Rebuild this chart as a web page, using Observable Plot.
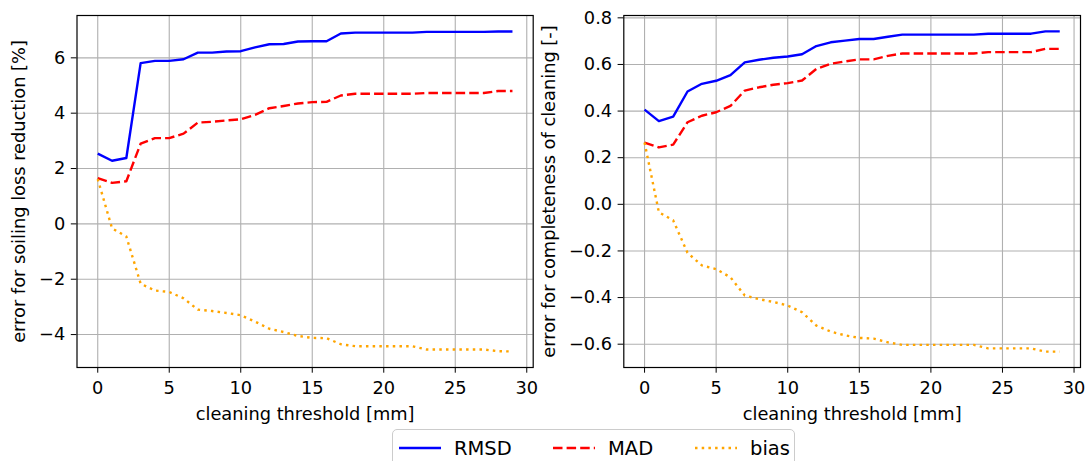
<!DOCTYPE html>
<html>
<head>
<meta charset="utf-8">
<script src="https://cdn.jsdelivr.net/npm/d3@7"></script>
<script src="https://cdn.jsdelivr.net/npm/@observablehq/plot@0.6"></script>
<style>
  body { margin: 0; background: #fff; }
  #wrap { position: relative; width: 1086px; height: 461px; overflow: hidden; font-family: "DejaVu Sans", sans-serif; background: #fff; }
  #left, #right { position: absolute; top: 0; }
  #left { left: 0; }
  #right { left: 540px; }
  #legend { position: absolute; left: 392px; top: 429px; width: 403px; height: 44px; border: 1px solid #cccccc; border-radius: 5px; box-sizing: border-box; background: rgba(255,255,255,0.8); }
  .item { position: absolute; top: 0; height: 36px; display: flex; align-items: center; font-size: 19.5px; color: #000; white-space: nowrap; }
  .item svg { margin-right: 13px; }
</style>
</head>
<body>
<div id="wrap">
  <div id="left"></div>
  <div id="right"></div>
  <div id="legend"></div>
</div>
<script>
// ---- data ----
const thresholds = [0,1,2,3,4,5,6,7,8,9,10,11,12,13,14,15,16,17,18,19,20,21,22,23,24,25,26,27,28,29];
const seriesNames = ["RMSD", "MAD", "bias"];

// left panel: error for soiling loss reduction [%]
const soilRMSD = [2.54,2.28,2.38,5.81,5.89,5.89,5.95,6.19,6.19,6.23,6.24,6.38,6.49,6.50,6.59,6.60,6.60,6.88,6.91,6.91,6.91,6.91,6.91,6.94,6.94,6.94,6.94,6.94,6.95,6.95];
const soilMAD  = [1.65,1.48,1.54,2.90,3.10,3.10,3.26,3.66,3.69,3.74,3.78,3.94,4.18,4.26,4.35,4.40,4.41,4.64,4.70,4.70,4.70,4.70,4.70,4.73,4.73,4.73,4.73,4.73,4.80,4.80];
const soilBias = [1.62,-0.16,-0.46,-2.16,-2.41,-2.46,-2.69,-3.10,-3.15,-3.22,-3.30,-3.53,-3.79,-3.91,-4.05,-4.12,-4.13,-4.35,-4.42,-4.42,-4.42,-4.42,-4.42,-4.54,-4.54,-4.54,-4.54,-4.54,-4.60,-4.61];

// right panel: error for completeness of cleaning [-]
const cleanRMSD = [0.406,0.357,0.376,0.484,0.517,0.530,0.554,0.609,0.620,0.629,0.634,0.644,0.679,0.695,0.702,0.709,0.709,0.719,0.728,0.728,0.728,0.728,0.728,0.728,0.732,0.732,0.732,0.732,0.742,0.742];
const cleanMAD  = [0.265,0.244,0.256,0.352,0.380,0.395,0.422,0.488,0.502,0.513,0.520,0.531,0.581,0.603,0.613,0.622,0.622,0.637,0.647,0.647,0.647,0.647,0.647,0.647,0.653,0.653,0.653,0.653,0.667,0.667];
const cleanBias = [0.265,-0.034,-0.069,-0.208,-0.262,-0.278,-0.313,-0.391,-0.407,-0.419,-0.434,-0.463,-0.520,-0.546,-0.562,-0.573,-0.576,-0.592,-0.603,-0.603,-0.603,-0.603,-0.603,-0.603,-0.618,-0.618,-0.618,-0.618,-0.632,-0.632];

// ticks
const xTicks = [0,5,10,15,20,25,30];
const soilTicks = [-4,-2,0,2,4,6];
const cleanTicks = [-0.6,-0.4,-0.2,0.0,0.2,0.4,0.6,0.8];

const xLabel = "cleaning threshold [mm]";
const soilLabel = "error for soiling loss reduction [%]";
const cleanLabel = "error for completeness of cleaning [-]";

// ---- styles ----
const styles = {
  RMSD: {stroke: "#0000ff", strokeDasharray: null, strokeLinecap: "butt"},
  MAD:  {stroke: "#ff0000", strokeDasharray: "9.5,4.1", strokeLinecap: "butt"},
  bias: {stroke: "#ffa500", strokeDasharray: "2.5,4.2", strokeLinecap: "butt"}
};
const LW = 2.4;

function panel(values, yDomain, yTicks, yFmt, yLabel, opts) {
  const marks = [
    Plot.gridX({ticks: xTicks, stroke: "#b0b0b0", strokeOpacity: 1, strokeWidth: 1.1}),
    Plot.gridY({ticks: yTicks, stroke: "#b0b0b0", strokeOpacity: 1, strokeWidth: 1.1})
  ];
  seriesNames.forEach((name, k) => {
    const s = styles[name];
    const o = {x: thresholds, y: values[k], stroke: s.stroke, strokeWidth: LW, strokeLinecap: s.strokeLinecap, strokeLinejoin: "round"};
    if (s.strokeDasharray) o.strokeDasharray = s.strokeDasharray;
    marks.push(Plot.lineY(values[k], {...o, x: (d, i) => thresholds[i], y: d => d}));
  });
  marks.push(Plot.frame({stroke: "#000", strokeWidth: 1.2}));
  return Plot.plot({
    width: opts.width,
    height: 425,
    marginLeft: opts.marginLeft,
    marginRight: opts.marginRight,
    marginTop: 15,
    marginBottom: 58,
    style: {fontFamily: "DejaVu Sans", fontSize: "17.8px", color: "#000", background: "transparent", overflow: "visible"},
    x: {domain: [-1.45, 30.45], ticks: xTicks, tickSize: 5.7, tickPadding: 7.8, tickFormat: d3.format("d"),
        label: xLabel, labelAnchor: "center", labelArrow: "none", labelOffset: 52},
    y: {domain: yDomain, ticks: yTicks, tickSize: 5.7, tickPadding: 6, tickFormat: yFmt,
        label: yLabel, labelAnchor: "center", labelArrow: "none", labelOffset: opts.labelOffset},
    marks
  });
}

document.getElementById("left").appendChild(
  panel([soilRMSD, soilMAD, soilBias], [-5.19, 7.53], soilTicks, d3.format("d"), soilLabel,
        {width: 540, marginLeft: 76.5, marginRight: 7.3, labelOffset: 65})
);
document.getElementById("right").appendChild(
  panel([cleanRMSD, cleanMAD, cleanBias], [-0.70, 0.81], cleanTicks, d3.format(".1f"), cleanLabel,
        {width: 546, marginLeft: 83.3, marginRight: 6, labelOffset: 81})
);

// ---- legend ----
const legend = document.getElementById("legend");
const legendX = [6, 160, 302];
seriesNames.forEach((name, k) => {
  const s = styles[name];
  const item = document.createElement("div");
  item.className = "item";
  item.style.left = legendX[k] + "px";
  const ns = "http://www.w3.org/2000/svg";
  const svg = document.createElementNS(ns, "svg");
  svg.setAttribute("width", 42);
  svg.setAttribute("height", 10);
  const line = document.createElementNS(ns, "line");
  line.setAttribute("x1", 0); line.setAttribute("x2", 42);
  line.setAttribute("y1", 5); line.setAttribute("y2", 5);
  line.setAttribute("stroke", s.stroke);
  line.setAttribute("stroke-width", LW);
  if (s.strokeDasharray) line.setAttribute("stroke-dasharray", s.strokeDasharray);
  svg.appendChild(line);
  item.appendChild(svg);
  const t = document.createElement("span");
  t.textContent = name;
  item.appendChild(t);
  legend.appendChild(item);
});
</script>
</body>
</html>
